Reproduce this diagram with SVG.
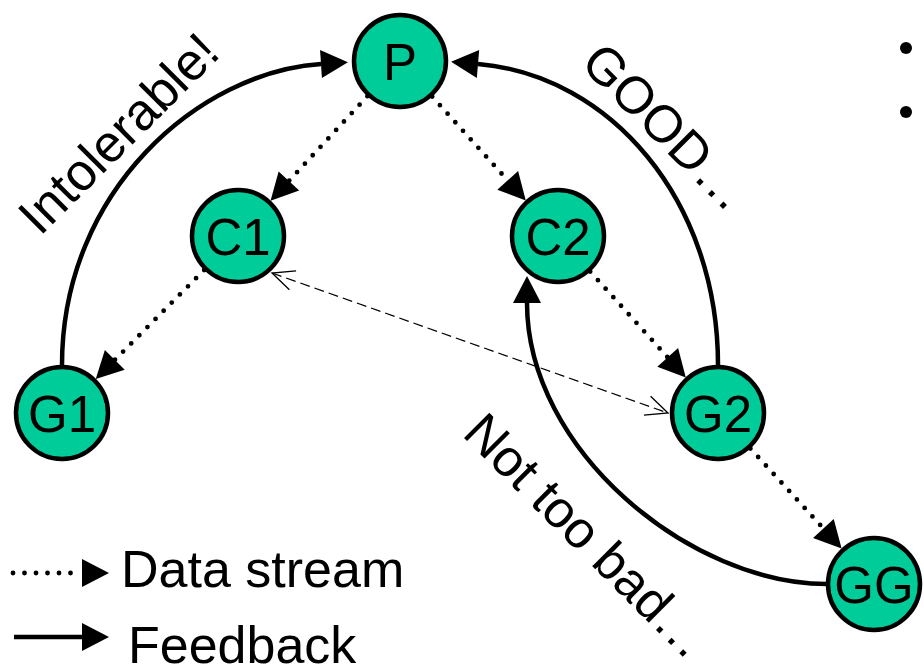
<svg xmlns="http://www.w3.org/2000/svg" width="924" height="666" viewBox="0 0 924 666">
<style>
.node circle{fill:#00CC99;stroke:#000;stroke-width:4.5}
.node text{font-family:"Liberation Sans",Arial,sans-serif;font-size:51px;text-anchor:middle;fill:#000}
.lbl{font-family:"Liberation Sans",Arial,sans-serif;font-size:52px;fill:#000}
.data{fill:none;stroke:#000;stroke-width:4.8;stroke-linecap:round;stroke-dasharray:0 11.5}
.fb{fill:none;stroke:#000;stroke-width:4.5}
.link{fill:none;stroke:#000;stroke-width:1.3;stroke-dasharray:10 5}
</style>
<defs>
<marker id="arr" markerUnits="userSpaceOnUse" viewBox="0 0 27 28" markerWidth="27" markerHeight="28" refX="0" refY="14" orient="auto" overflow="visible">
<path d="M0,0 L27,14 L0,28 z" fill="#000"/>
</marker>
<marker id="open" markerUnits="userSpaceOnUse" viewBox="0 0 24 22" markerWidth="24" markerHeight="22" refX="23" refY="11" orient="auto-start-reverse" overflow="visible">
<path d="M1,1 L23,11 L1,21" fill="none" stroke="#000" stroke-width="1.3"/>
</marker>
</defs>
<g id="connectors">
<path class="fb" d="M62 365 C62 190 200 72 321 64" marker-end="url(#arr)"/>
<path class="fb" d="M718 365 C718 200 610 75 478 64" marker-end="url(#arr)"/>
<path class="fb" d="M827 584 C690 584 527 450 527 303" marker-end="url(#arr)"/>
<path class="data" d="M367.4 96.2 L288.9 181" marker-end="url(#arr)"/>
<path class="data" d="M432.2 96.6 L507.7 180.4" marker-end="url(#arr)"/>
<path class="data" d="M204.2 270 L114.8 359.9" marker-end="url(#arr)"/>
<path class="data" d="M590.2 271.6 L667.7 357.4" marker-end="url(#arr)"/>
<path class="data" d="M750.4 448.5 L823.4 528.5" marker-end="url(#arr)"/>
<path class="link" d="M272 273 L668 413" marker-start="url(#open)" marker-end="url(#open)"/>
</g>
<g id="node-P" class="node"><circle cx="400" cy="61" r="46"/><text x="400" y="80">P</text></g>
<g id="node-C1" class="node"><circle cx="238" cy="236" r="46"/><text x="238" y="255">C1</text></g>
<g id="node-C2" class="node"><circle cx="558" cy="236" r="46"/><text x="558" y="255">C2</text></g>
<g id="node-G1" class="node"><circle cx="62" cy="413" r="46"/><text x="62" y="432">G1</text></g>
<g id="node-G2" class="node"><circle cx="718" cy="413" r="46"/><text x="718" y="432">G2</text></g>
<g id="node-GG" class="node"><circle cx="874" cy="584" r="46"/><text x="874" y="603">GG</text></g>
<g id="labels">
<text class="lbl" transform="translate(40 237) rotate(-45)">Intolerable!</text>
<text class="lbl" transform="translate(579 65) rotate(45)">GOOD…</text>
<text class="lbl" transform="translate(461 435) rotate(45)">Not too bad…</text>
</g>
<g id="bullets">
<circle cx="906" cy="48" r="6" fill="#000"/>
<circle cx="906" cy="112" r="6" fill="#000"/>
</g>
<g id="legend">
<path class="data" d="M13 573 L82 573" marker-end="url(#arr)"/>
<text class="lbl" x="121" y="587">Data stream</text>
<path class="fb" d="M14 637 L82 637" stroke-width="5" marker-end="url(#arr)"/>
<text class="lbl" x="128" y="663">Feedback</text>
</g>
</svg>
